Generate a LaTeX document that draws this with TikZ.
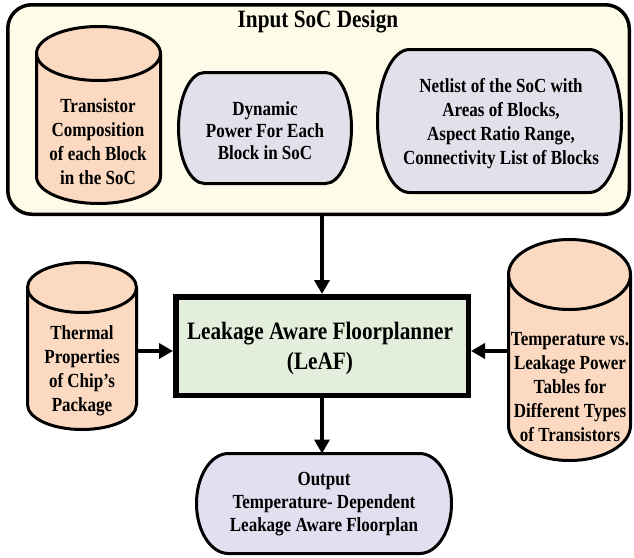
\documentclass[tikz,border=0pt]{standalone}
\usepackage{fontspec}
\setmainfont{Liberation Serif}[FakeStretch=0.85]
\usetikzlibrary{arrows.meta,calc}

\definecolor{socfill}{HTML}{FEFCE9}
\definecolor{cylfill}{HTML}{FCDAC2}
\definecolor{greyfill}{HTML}{E2E0EA}
\definecolor{mainfill}{HTML}{E3EFDC}
\definecolor{outfill}{HTML}{E1E0F1}

% cylinder drawn inside the bounds of an (invisible) node: #1 node, #2 end-ellipse y radius
\newcommand\drawcyl[2]{%
  \path[outline, fill=cylfill] let \p1=(#1.north west), \p2=(#1.south east), \n1={(\x2-\x1)/2} in
    (\x1,\y1-#2pt) -- (\x1,\y2+#2pt)
    arc[start angle=180, end angle=360, x radius=\n1, y radius=#2pt]
    -- (\x2,\y1-#2pt)
    arc[start angle=0, end angle=180, x radius=\n1, y radius=#2pt] -- cycle;
  \path[outline] let \p1=(#1.north west), \p2=(#1.south east), \n1={(\x2-\x1)/2} in
    (\x1,\y1-#2pt) arc[start angle=180, end angle=360, x radius=\n1, y radius=#2pt];
}
% box with elliptic left and right ends: #1 node, #2 end x radius, #3 fill
\newcommand\drawpill[3]{%
  \path[outline, fill=#3] let \p1=(#1.north west), \p2=(#1.south east), \n1={(\y1-\y2)/2} in
    (\x1+#2pt,\y1) -- (\x2-#2pt,\y1)
    arc[start angle=90, end angle=-90, x radius=#2pt, y radius=\n1]
    -- (\x1+#2pt,\y2)
    arc[start angle=270, end angle=90, x radius=#2pt, y radius=\n1] -- cycle;
}

\begin{document}
\begin{tikzpicture}[x=1pt, y=1pt,
  outline/.style={draw=black, line width=3pt},
  bounds/.style={inner sep=0, outer sep=0, draw=none},
  txt/.style={align=center, inner sep=0, font=\fontsize{20}{24}\selectfont\bfseries},
  bigtxt/.style={align=center, inner sep=0, font=\fontsize{25}{30}\selectfont\bfseries},
  flow/.style={line width=4pt, -{Triangle[length=14pt, width=15pt]}}
]
\useasboundingbox (0,0) rectangle (634,-557);

% input frame
\node[outline, line width=3.5pt, fill=socfill, rounded corners=24pt,
      minimum width=621.5, minimum height=209.5] (soc) at (318.5,-109.5) {};
\node[bigtxt] (title) at (318,-22) {Input SoC Design};

% shape bounds
\node[bounds, minimum width=124, minimum height=177] (trans) at (98.5,-115) {};
\node[bounds, minimum width=173, minimum height=111] (dyn) at (265,-128) {};
\node[bounds, minimum width=244, minimum height=143] (net) at (499.5,-121) {};
\node[bounds, minimum width=109, minimum height=167] (therm) at (82,-346) {};
\node[bounds, minimum width=122, minimum height=221] (tables) at (569.5,-350) {};
\node[bounds, minimum width=255, minimum height=100] (out) at (324,-503.5) {};

% shapes
\drawcyl{trans}{27}
\drawpill{dyn}{26}{greyfill}
\drawpill{net}{32}{greyfill}
\drawcyl{therm}{25}
\drawcyl{tables}{35}
\drawpill{out}{32}{outfill}

\node[draw=black, line width=5.5pt, fill=mainfill,
      minimum width=292.5, minimum height=98.5] (leaf) at (322,-346) {};

% texts
\node[txt] (transtxt) at (98,-142) {Transistor\\Composition\\of each Block\\in the SoC};
\node[txt, font=\fontsize{20}{22}\selectfont\bfseries] (dyntxt) at (265,-131) {Dynamic\\Power For Each\\Block in SoC};
\node[txt] (nettxt) at (501,-124) {Netlist of the SoC with\\Areas of Blocks,\\Aspect Ratio Range,\\Connectivity List of Blocks};
\node[txt] (thermtxt) at (82,-371) {Thermal\\Properties\\of Chip’s\\Package};
\node[txt] (tabtxt) at (570,-387) {Temperature vs.\\Leakage Power\\Tables for\\Different Types\\of Transistors};
\node[bigtxt] (leaftxt) at (320,-348) {Leakage Aware Floorplanner\\(LeAF)};
\node[txt, font=\fontsize{20}{23}\selectfont\bfseries] (outtxt) at (324,-504) {Output\\Temperature- Dependent\\Leakage Aware Floorplan};

% connectors
\coordinate (row) at (0,-351);
\draw[flow] (leaf.north |- soc.south) -- (leaf.north);
\draw[flow] (therm.east |- row) -- (leaf.west |- row);
\draw[flow] (tables.west |- row) -- (leaf.east |- row);
\draw[flow] (leaf.south) -- (leaf.south |- out.north);
\end{tikzpicture}
\end{document}
